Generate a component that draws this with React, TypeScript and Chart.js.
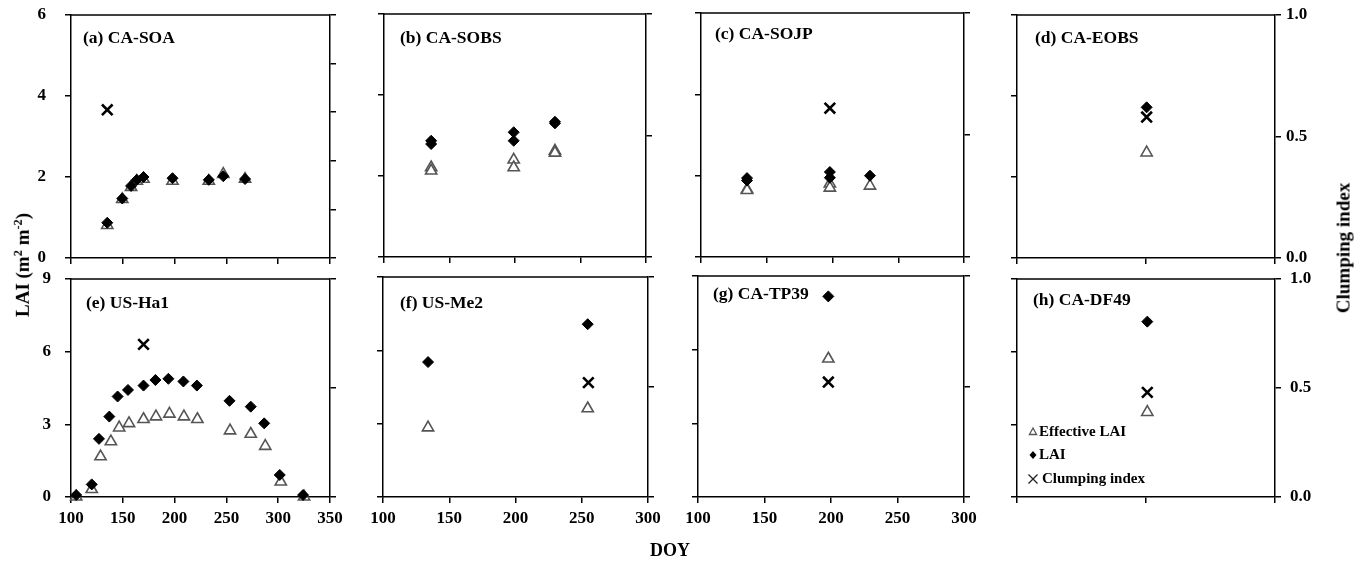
import { useEffect, useRef } from "react";
import { Chart, registerables } from "chart.js";

Chart.register(...registerables);

const FONT = '"Liberation Serif", "Times New Roman", serif';

// (a) CA-SOA
const SOA_DOY = [135, 149.5, 158, 163.5, 170, 198, 233, 247, 268];
const SOA_LAIE = [0.81, 1.45, 1.75, 1.9, 1.95, 1.9, 1.9, 2.07, 1.95];
const SOA_LAI = [0.87, 1.47, 1.78, 1.93, 2.0, 1.97, 1.93, 2.02, 1.95];
const SOA_CI_DOY = [135];
const SOA_CI = [0.61];

// (b) CA-SOBS
const SOBS_DOY = [136, 136, 199, 199, 230.5, 230.5];
const SOBS_LAIE = [2.21, 2.13, 2.4, 2.21, 2.62, 2.57];
const SOBS_LAI = [2.87, 2.79, 3.08, 2.87, 3.34, 3.3];

// (c) CA-SOJP
const SOJP_DOY = [135, 135, 198, 198, 228.5];
const SOJP_LAIE = [1.66, 1.64, 1.8, 1.7, 1.75];
const SOJP_LAI = [1.94, 1.88, 2.09, 1.95, 2.0];
const SOJP_CI_DOY = [198];
const SOJP_CI = [0.61];

// (d) CA-EOBS
const EOBS_DOY = [200.5];
const EOBS_LAIE = [2.6];
const EOBS_LAI = [3.72];
const EOBS_CI = [0.58];

// (e) US-Ha1
const HA1_LAI_DOY = [105, 120, 127, 137, 145, 155, 170, 181.5, 194, 208.5, 221.5, 253, 273.5, 286.5, 301.5, 324];
const HA1_LAI = [0.08, 0.52, 2.4, 3.32, 4.15, 4.42, 4.6, 4.83, 4.88, 4.77, 4.6, 3.97, 3.73, 3.04, 0.91, 0.08];
const HA1_LAIE_DOY = [105, 120, 128.5, 138.5, 146.5, 156, 170, 182, 195, 209, 222, 253.5, 273.5, 287.5, 302.5, 325];
const HA1_LAIE = [0.01, 0.32, 1.67, 2.29, 2.86, 3.04, 3.21, 3.32, 3.43, 3.32, 3.21, 2.74, 2.6, 2.1, 0.63, 0.01];
const HA1_CI_DOY = [170];
const HA1_CI = [0.7];

// (f) US-Me2
const ME2_DOY = [134, 254.5];
const ME2_LAIE = [2.84, 3.62];
const ME2_LAI = [5.52, 7.07];
const ME2_CI_DOY = [255];
const ME2_CI = [0.52];

// (g) CA-TP39
const TP39_DOY = [198];
const TP39_LAIE = [5.63];
const TP39_LAI = [8.17];
const TP39_CI = [0.52];

// (h) CA-DF49
const DF49_DOY = [201];
const DF49_LAIE = [3.5];
const DF49_LAI = [7.24];
const DF49_CI = [0.48];

const LEGEND_LABELS = ["Effective LAI", "LAI", "Clumping index"];

// margins around each plotting area inside its canvas
const ML = 70;
const MR = 70;
const MT = 10;
const MB = 45;

type Area = { l: number; t: number; r: number; b: number };

interface PanelSpec {
  area: Area;
  title: string;
  titleDx: number;
  titleDy: number;
  xMax: number;
  xStep: number;
  xLabels: boolean;
  yMax: number;
  yStep: number;
  yLabels: boolean;
  yPad: number;
  ciStep: number;
  ciLabels: boolean;
  ciPad: number;
  effDoy: number[];
  eff: number[];
  laiDoy: number[];
  lai: number[];
  ciDoy: number[];
  ci: number[];
  legend?: boolean;
}

const PANELS: PanelSpec[] = [
  { area: { l: 71, t: 15, r: 330, b: 258 }, title: "(a) CA-SOA", titleDx: 12, titleDy: 23, xMax: 350, xStep: 50, xLabels: false, yMax: 6, yStep: 2, yLabels: true, yPad: 19, ciStep: 0.2, ciLabels: false, ciPad: 8, effDoy: SOA_DOY, eff: SOA_LAIE, laiDoy: SOA_DOY, lai: SOA_LAI, ciDoy: SOA_CI_DOY, ci: SOA_CI },
  { area: { l: 384, t: 14, r: 646, b: 257 }, title: "(b) CA-SOBS", titleDx: 16, titleDy: 24, xMax: 300, xStep: 50, xLabels: false, yMax: 6, yStep: 2, yLabels: false, yPad: 19, ciStep: 0.5, ciLabels: false, ciPad: 8, effDoy: SOBS_DOY, eff: SOBS_LAIE, laiDoy: SOBS_DOY, lai: SOBS_LAI, ciDoy: [], ci: [] },
  { area: { l: 701, t: 13, r: 964, b: 257 }, title: "(c) CA-SOJP", titleDx: 14, titleDy: 21, xMax: 300, xStep: 50, xLabels: false, yMax: 6, yStep: 2, yLabels: false, yPad: 19, ciStep: 0.5, ciLabels: false, ciPad: 8, effDoy: SOJP_DOY, eff: SOJP_LAIE, laiDoy: SOJP_DOY, lai: SOJP_LAI, ciDoy: SOJP_CI_DOY, ci: SOJP_CI },
  { area: { l: 1017, t: 15, r: 1275, b: 258 }, title: "(d) CA-EOBS", titleDx: 18, titleDy: 23, xMax: 300, xStep: 100, xLabels: false, yMax: 6, yStep: 2, yLabels: false, yPad: 19, ciStep: 0.5, ciLabels: true, ciPad: 5, effDoy: EOBS_DOY, eff: EOBS_LAIE, laiDoy: EOBS_DOY, lai: EOBS_LAI, ciDoy: EOBS_DOY, ci: EOBS_CI },
  { area: { l: 71, t: 279, r: 330, b: 497 }, title: "(e) US-Ha1", titleDx: 15, titleDy: 24, xMax: 350, xStep: 50, xLabels: true, yMax: 9, yStep: 3, yLabels: true, yPad: 14, ciStep: 0.5, ciLabels: false, ciPad: 8, effDoy: HA1_LAIE_DOY, eff: HA1_LAIE, laiDoy: HA1_LAI_DOY, lai: HA1_LAI, ciDoy: HA1_CI_DOY, ci: HA1_CI },
  { area: { l: 383, t: 277, r: 648, b: 497 }, title: "(f) US-Me2", titleDx: 17, titleDy: 26, xMax: 300, xStep: 50, xLabels: true, yMax: 9, yStep: 3, yLabels: false, yPad: 14, ciStep: 0.5, ciLabels: false, ciPad: 8, effDoy: ME2_DOY, eff: ME2_LAIE, laiDoy: ME2_DOY, lai: ME2_LAI, ciDoy: ME2_CI_DOY, ci: ME2_CI },
  { area: { l: 698, t: 276, r: 964, b: 497 }, title: "(g) CA-TP39", titleDx: 15, titleDy: 18, xMax: 300, xStep: 50, xLabels: true, yMax: 9, yStep: 3, yLabels: false, yPad: 14, ciStep: 0.5, ciLabels: false, ciPad: 8, effDoy: TP39_DOY, eff: TP39_LAIE, laiDoy: TP39_DOY, lai: TP39_LAI, ciDoy: TP39_DOY, ci: TP39_CI },
  { area: { l: 1017, t: 279, r: 1275, b: 497 }, title: "(h) CA-DF49", titleDx: 16, titleDy: 21, xMax: 300, xStep: 100, xLabels: false, yMax: 9, yStep: 3, yLabels: false, yPad: 14, ciStep: 0.5, ciLabels: true, ciPad: 9, effDoy: DF49_DOY, eff: DF49_LAIE, laiDoy: DF49_DOY, lai: DF49_LAI, ciDoy: DF49_DOY, ci: DF49_CI, legend: true },
];

function pts(xs: number[], ys: number[]) {
  return xs.map((x, i) => ({ x, y: ys[i] }));
}

const tickFont = { family: FONT, size: 17, weight: "bold" as const };
const gridStyle = { drawOnChartArea: false, drawTicks: true, tickLength: 6, color: "#000", lineWidth: 1.5 };
const borderStyle = { display: true, color: "#000", width: 1.5 };

// fixes a scale's box size and drops the extra room reserved for edge labels
function fixBox(size: number, vertical: boolean) {
  return (s: any) => {
    if (vertical) s.width = size;
    else s.height = size;
    s.paddingTop = 0;
    s.paddingBottom = 0;
    s.paddingLeft = 0;
    s.paddingRight = 0;
  };
}

function Panel({ spec }: { spec: PanelSpec }) {
  const ref = useRef<HTMLCanvasElement>(null);
  const { area } = spec;
  const w = area.r - area.l + ML + MR;
  const h = area.b - area.t + MT + MB;

  useEffect(() => {
    const canvas = ref.current;
    if (!canvas) return;

    // closes the frame along the top and writes the site label
    const frame = {
      id: "frame",
      afterDraw(chart: Chart) {
        const { ctx, chartArea: a } = chart;
        ctx.save();
        ctx.strokeStyle = "#000";
        ctx.lineWidth = 1.5;
        ctx.beginPath();
        ctx.moveTo(a.left, a.top);
        ctx.lineTo(a.right, a.top);
        ctx.stroke();
        ctx.font = `bold 17.5px ${FONT}`;
        ctx.fillStyle = "#000";
        ctx.textAlign = "left";
        ctx.textBaseline = "middle";
        ctx.fillText(spec.title, a.left + spec.titleDx, a.top + spec.titleDy);
        ctx.restore();
      },
    };

    // key in the lower-left corner of the last panel
    const key = {
      id: "key",
      afterDraw(chart: Chart) {
        if (!spec.legend) return;
        const { ctx, chartArea: a } = chart;
        const mx = a.left + 16;
        const tx = a.left + 22;
        const rows = [a.bottom - 65, a.bottom - 42, a.bottom - 18];
        ctx.save();
        // triangle
        let y = rows[0];
        ctx.beginPath();
        ctx.moveTo(mx, y - 4);
        ctx.lineTo(mx + 3.6, y + 2.5);
        ctx.lineTo(mx - 3.6, y + 2.5);
        ctx.closePath();
        ctx.fillStyle = "#fff";
        ctx.fill();
        ctx.strokeStyle = "#555";
        ctx.lineWidth = 1.3;
        ctx.stroke();
        // diamond
        y = rows[1];
        ctx.beginPath();
        ctx.moveTo(mx, y - 4);
        ctx.lineTo(mx + 3.5, y);
        ctx.lineTo(mx, y + 4);
        ctx.lineTo(mx - 3.5, y);
        ctx.closePath();
        ctx.fillStyle = "#000";
        ctx.fill();
        // cross
        y = rows[2];
        ctx.beginPath();
        ctx.moveTo(mx - 4.5, y - 4.5);
        ctx.lineTo(mx + 4.5, y + 4.5);
        ctx.moveTo(mx + 4.5, y - 4.5);
        ctx.lineTo(mx - 4.5, y + 4.5);
        ctx.strokeStyle = "#222";
        ctx.lineWidth = 1.3;
        ctx.stroke();
        ctx.font = `bold 15px ${FONT}`;
        ctx.fillStyle = "#000";
        ctx.textAlign = "left";
        ctx.textBaseline = "middle";
        LEGEND_LABELS.forEach((t, i) => ctx.fillText(t, tx + (i === 2 ? 3 : 0), rows[i]));
        ctx.restore();
      },
    };

    const chart = new Chart(canvas, {
      type: "scatter",
      data: {
        datasets: [
          {
            label: LEGEND_LABELS[0],
            data: pts(spec.effDoy, spec.eff),
            yAxisID: "y",
            pointStyle: "triangle",
            pointRadius: 6.5,
            pointBorderColor: "#555",
            pointBackgroundColor: "#fff",
            pointBorderWidth: 1.6,
            order: 3,
            clip: false,
          },
          {
            label: LEGEND_LABELS[1],
            data: pts(spec.laiDoy, spec.lai),
            yAxisID: "y",
            pointStyle: "rectRot",
            pointRadius: 5.5,
            pointBorderColor: "#000",
            pointBackgroundColor: "#000",
            pointBorderWidth: 1,
            order: 2,
            clip: false,
          },
          {
            label: LEGEND_LABELS[2],
            data: pts(spec.ciDoy, spec.ci),
            yAxisID: "y2",
            pointStyle: "crossRot",
            pointRadius: 7.5,
            pointBorderColor: "#000",
            pointBackgroundColor: "#000",
            pointBorderWidth: 2.6,
            order: 1,
            clip: false,
          },
        ],
      },
      options: {
        responsive: false,
        animation: false,
        events: [],
        layout: { padding: { top: MT, left: 0, right: 0, bottom: 0 }, autoPadding: false },
        plugins: {
          legend: { display: false },
          tooltip: { enabled: false },
        },
        scales: {
          x: {
            type: "linear",
            position: "bottom",
            min: 100,
            max: spec.xMax,
            afterFit: fixBox(MB, false),
            ticks: {
              stepSize: spec.xStep,
              display: spec.xLabels,
              color: "#000",
              font: tickFont,
              padding: 5,
              maxRotation: 0,
              autoSkip: false,
            },
            grid: gridStyle,
            border: borderStyle,
          },
          y: {
            type: "linear",
            position: "left",
            min: 0,
            max: spec.yMax,
            afterFit: fixBox(ML, true),
            ticks: {
              stepSize: spec.yStep,
              display: spec.yLabels,
              color: "#000",
              font: tickFont,
              padding: spec.yPad,
            },
            grid: gridStyle,
            border: borderStyle,
          },
          y2: {
            type: "linear",
            position: "right",
            min: 0,
            max: 1,
            afterFit: fixBox(MR, true),
            ticks: {
              stepSize: spec.ciStep,
              display: spec.ciLabels,
              color: "#000",
              font: tickFont,
              padding: spec.ciPad,
              callback: (v: any) => Number(v).toFixed(1),
            },
            grid: gridStyle,
            border: borderStyle,
          },
        },
      },
      plugins: [frame, key],
    } as any);

    return () => chart.destroy();
  }, [spec]);

  return (
    <canvas
      ref={ref}
      width={w}
      height={h}
      style={{ position: "absolute", left: area.l - ML, top: area.t - MT, width: w, height: h }}
    />
  );
}

const axisTitle: React.CSSProperties = {
  position: "absolute",
  fontFamily: FONT,
  fontWeight: "bold",
  color: "#000",
  whiteSpace: "nowrap",
  lineHeight: 1,
};

export default function App() {
  return (
    <div
      style={{
        position: "absolute",
        left: 0,
        top: 0,
        width: 1365,
        height: 562,
        background: "#fff",
        overflow: "hidden",
      }}
    >
      {PANELS.map((p) => (
        <Panel key={p.title} spec={p} />
      ))}
      <div
        style={{
          ...axisTitle,
          fontSize: 19,
          left: 22,
          top: 265,
          transform: "translate(-50%, -50%) rotate(-90deg)",
        }}
      >
        LAI (m<sup style={{ fontSize: "0.65em" }}>2</sup> m<sup style={{ fontSize: "0.65em" }}>-2</sup>)
      </div>
      <div
        style={{
          ...axisTitle,
          fontSize: 19,
          left: 1343,
          top: 248,
          transform: "translate(-50%, -50%) rotate(-90deg)",
        }}
      >
        Clumping index
      </div>
      <div
        style={{
          ...axisTitle,
          fontSize: 18,
          left: 670,
          top: 550,
          transform: "translate(-50%, -50%)",
        }}
      >
        DOY
      </div>
    </div>
  );
}
